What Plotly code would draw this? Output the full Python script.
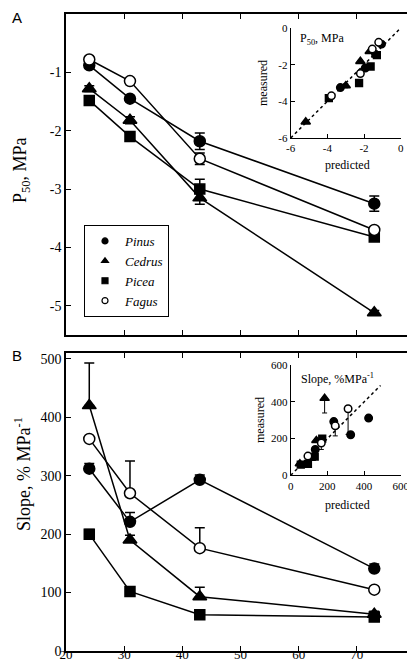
import plotly.graph_objects as go

W, H = 415, 661

# ---------------- data ----------------
x_vals = [24, 31, 43, 73]
species = ["Pinus", "Cedrus", "Picea", "Fagus"]

# Panel A: P50 (MPa)
p50_pinus = [-0.88, -1.45, -2.18, -3.25]
p50_cedrus = [-1.28, -1.82, -3.15, -5.12]
p50_picea = [-1.48, -2.10, -3.00, -3.82]
p50_fagus = [-0.78, -1.15, -2.48, -3.70]
p50_err_pinus = [0.05, 0.05, 0.14, 0.13]
p50_err_cedrus = [0.05, 0.06, 0.11, 0.04]
p50_err_picea = [0.05, 0.05, 0.17, 0.05]
p50_err_fagus = [0.04, 0.04, 0.10, 0.05]

# Panel B: slope (% MPa-1)
slope_pinus = [312, 221, 293, 141]
slope_cedrus = [420, 190, 93, 63]
slope_picea = [200, 102, 62, 58]
slope_fagus = [363, 270, 176, 105]
slope_err_pinus = [9, 16, 8, 8]
slope_err_cedrus = [73, 8, 16, 5]
slope_err_picea = [8, 3, 3, 3]
slope_err_fagus = [4, 55, 35, 4]

# Inset A: predicted vs measured P50
p50_pred_pinus = [-1.05, -1.37, -1.93, -3.29]
p50_pred_cedrus = [-1.69, -2.20, -3.00, -5.18]
p50_pred_picea = [-1.30, -1.64, -2.27, -3.92]
p50_pred_fagus = [-1.20, -1.55, -2.20, -3.78]
p50_line = [-6, 0]

# Inset B: predicted vs measured slope
slope_pred_pinus = [425, 327, 235, 134]
slope_pred_cedrus = [185, 140, 110, 50]
slope_pred_picea = [172, 131, 94, 55]
slope_pred_fagus = [313, 243, 167, 94]
slope_inset_err_pinus = [0, 0, 0, 0]
slope_inset_err_cedrus = [80, 0, 0, 0]
slope_inset_err_picea = [0, 0, 0, 0]
slope_inset_err_fagus = [140, 55, 35, 0]
slope_line = [0, 490]

xticks = [20, 30, 40, 50, 60, 70, 80]
p50_ticks = [0, -1, -2, -3, -4, -5]
slope_ticks = [0, 100, 200, 300, 400, 500]
inset_a_ticks = [-6, -4, -2, 0]
inset_b_ticks = [0, 200, 400, 600]

# ---------------- styles ----------------
SERIF = "Liberation Serif"
styles = {
    "Pinus": dict(symbol="circle", color="black", size=11),
    "Cedrus": dict(symbol="triangle-up", color="black", size=12),
    "Picea": dict(symbol="square", color="black", size=10),
    "Fagus": dict(symbol="circle", color="white", size=11),
}

main_series = {
    "Pinus": (p50_pinus, p50_err_pinus, slope_pinus, slope_err_pinus,
              p50_pred_pinus, slope_pred_pinus, slope_inset_err_pinus),
    "Cedrus": (p50_cedrus, p50_err_cedrus, slope_cedrus, slope_err_cedrus,
               p50_pred_cedrus, slope_pred_cedrus, slope_inset_err_cedrus),
    "Picea": (p50_picea, p50_err_picea, slope_picea, slope_err_picea,
              p50_pred_picea, slope_pred_picea, slope_inset_err_picea),
    "Fagus": (p50_fagus, p50_err_fagus, slope_fagus, slope_err_fagus,
              p50_pred_fagus, slope_pred_fagus, slope_inset_err_fagus),
}

fig = go.Figure()

def mk(st, scale=1.0):
    return dict(symbol=st["symbol"], color=st["color"], size=st["size"] * scale,
                line=dict(color="black", width=1.5))

for sp in species:
    p50, p50e, sl, sle, p50p, slp, slie = main_series[sp]
    st = styles[sp]
    fig.add_trace(go.Scatter(
        x=x_vals, y=p50, mode="lines+markers", xaxis="x", yaxis="y",
        line=dict(color="black", width=1.5), marker=mk(st), showlegend=False,
        error_y=dict(type="data", array=p50e, symmetric=True, color="black",
                     thickness=1.5, width=5)))
    fig.add_trace(go.Scatter(
        x=x_vals, y=sl, mode="lines+markers", xaxis="x2", yaxis="y2",
        line=dict(color="black", width=1.5), marker=mk(st), showlegend=False,
        error_y=dict(type="data", array=sle, arrayminus=[0] * len(sle),
                     symmetric=False, color="black", thickness=1.5, width=5)))

fig.add_trace(go.Scatter(x=p50_line, y=p50_line, mode="lines", xaxis="x3", yaxis="y3",
                         line=dict(color="black", width=1.5, dash="dot"), showlegend=False))
fig.add_trace(go.Scatter(x=slope_line, y=slope_line, mode="lines", xaxis="x4", yaxis="y4",
                         line=dict(color="black", width=1.5, dash="dot"), showlegend=False))

for sp in species:
    p50, p50e, sl, sle, p50p, slp, slie = main_series[sp]
    st = styles[sp]
    fig.add_trace(go.Scatter(
        x=p50p, y=p50, mode="markers", xaxis="x3", yaxis="y3",
        marker=mk(st, 0.68), showlegend=False,
        error_y=dict(type="data", array=p50e, symmetric=True, color="black",
                     thickness=1, width=2.5)))
    fig.add_trace(go.Scatter(
        x=slp, y=sl, mode="markers", xaxis="x4", yaxis="y4",
        marker=mk(st, 0.68), showlegend=False,
        error_y=dict(type="data", array=[0] * len(slie), arrayminus=slie,
                     symmetric=False, color="black", thickness=1, width=2.5)))

# legend entries (small symbols as in the original key)
for sp in species:
    st = styles[sp]
    fig.add_trace(go.Scatter(
        x=[None], y=[None], mode="markers", xaxis="x", yaxis="y", name="<i>%s</i>" % sp,
        marker=dict(symbol=st["symbol"], color=st["color"], size=6,
                    line=dict(color="black", width=1.2)), showlegend=True))

def px_x(p):
    return p / W

def px_y(p):
    return 1 - p / H

tickfont = dict(family=SERIF, size=14, color="black")
insetfont = dict(family=SERIF, size=11, color="black")

main_axis = dict(showline=True, linecolor="black", linewidth=1.5, mirror="ticks",
                 ticks="inside", ticklen=5, tickwidth=1, tickcolor="black",
                 showgrid=False, zeroline=False, tickfont=tickfont, automargin=False)
inset_axis = dict(showline=True, linecolor="black", linewidth=1, mirror=False,
                  ticks="inside", ticklen=4, tickwidth=1, tickcolor="black",
                  showgrid=False, zeroline=False, tickfont=insetfont, automargin=False)

fig.update_layout(
    width=W, height=H, margin=dict(l=0, r=0, t=0, b=0, pad=0, autoexpand=False),
    font=dict(family=SERIF, size=14, color="black"),
    paper_bgcolor="white", plot_bgcolor="rgba(0,0,0,0)",
    showlegend=True,
    legend=dict(x=px_x(76), y=px_y(217), xanchor="left", yanchor="top",
                bordercolor="black", borderwidth=1, bgcolor="white",
                font=dict(family=SERIF, size=13, color="black"),
                tracegroupgap=0, itemwidth=30),
    xaxis=dict(main_axis, domain=[px_x(58), px_x(407)], range=[20, 80],
               tickvals=xticks, showticklabels=False, anchor="y"),
    yaxis=dict(main_axis, domain=[px_y(327), px_y(6)], range=[-5.5, 0],
               tickvals=p50_ticks, ticktext=[str(v) for v in p50_ticks],
               anchor="x"),
    xaxis2=dict(main_axis, domain=[px_x(58), px_x(407)], range=[20, 80],
                tickvals=xticks, ticktext=[str(v) for v in xticks], anchor="y2",
                tickfont=dict(family=SERIF, size=13, color="black"),
                ticklabelstandoff=-9),
    yaxis2=dict(main_axis, domain=[px_y(643), px_y(345)], range=[0, 510],
                tickvals=slope_ticks, ticktext=[str(v) for v in slope_ticks], anchor="x2"),
    xaxis3=dict(inset_axis, domain=[px_x(282.7), px_x(392.7)], range=[-6, 0],
                tickvals=inset_a_ticks, ticktext=[str(v) for v in inset_a_ticks], anchor="y3"),
    yaxis3=dict(inset_axis, domain=[px_y(130), px_y(20)], range=[-6, 0],
                tickvals=inset_a_ticks, ticktext=[str(v) for v in inset_a_ticks], anchor="x3"),
    xaxis4=dict(inset_axis, domain=[px_x(282.7), px_x(392.7)], range=[0, 600],
                tickvals=inset_b_ticks, ticktext=[str(v) for v in inset_b_ticks], anchor="y4"),
    yaxis4=dict(inset_axis, domain=[px_y(467.3), px_y(357.3)], range=[0, 600],
                tickvals=inset_b_ticks, ticktext=[str(v) for v in inset_b_ticks], anchor="x4"),
)

def ann(text, x, y, size, angle=0, family=SERIF, xanchor="center", yanchor="middle"):
    fig.add_annotation(text=text, x=px_x(x), y=px_y(y), xref="paper", yref="paper",
                       showarrow=False, textangle=angle, xanchor=xanchor, yanchor=yanchor,
                       font=dict(family=family, size=size, color="black"))

ann("A", 2, 9, 15, family="Liberation Sans", xanchor="left")
ann("B", 2, 347, 15, family="Liberation Sans", xanchor="left")
ann("P<sub>50</sub>, MPa", 14, 162, 18, angle=-90)
ann("Slope, % MPa<sup>-1</sup>", 14, 466, 18, angle=-90)
ann("P<sub>50</sub>, MPa", 290, 31, 12, xanchor="left")
ann("Slope, %MPa<sup>-1</sup>", 291, 370, 12, xanchor="left")
ann("measured", 255, 75, 12, angle=-90)
ann("predicted", 339, 157, 12)
ann("measured", 252, 412, 12, angle=-90)
ann("predicted", 339, 497, 12)

fig.write_html("out.html")
